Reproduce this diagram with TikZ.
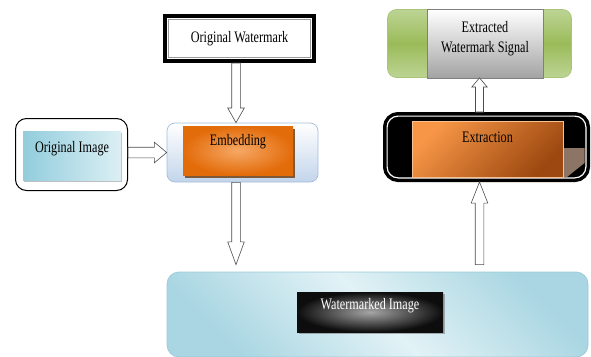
\documentclass[tikz,border=0pt]{standalone}
\usepackage{fontspec}
\usetikzlibrary{shapes.arrows,shadows,calc}
\newfontfamily\boxfont[FakeStretch=0.76]{Liberation Serif}
\newcommand{\diafont}{\boxfont\fontsize{16}{20}\selectfont}

\definecolor{sigGreen}{HTML}{9BBB59}
\definecolor{sigGreenLt}{HTML}{BDD494}
\definecolor{sigGreenLn}{HTML}{A9C47A}
\definecolor{sigGray}{HTML}{A3A3A3}
\definecolor{exLight}{HTML}{F79646}
\definecolor{exDark}{HTML}{9C4810}
\definecolor{curlBrown}{HTML}{8C7565}
\definecolor{emLight}{HTML}{F6A866}
\definecolor{emDark}{HTML}{E36C0A}
\definecolor{emFrame}{HTML}{C3D5EB}
\definecolor{emFrameLn}{HTML}{A5BCDA}
\definecolor{imgCyan}{HTML}{92CDDC}
\definecolor{imgCyanLt}{HTML}{DCEFF4}
\definecolor{wmCyan}{HTML}{A9D6E2}
\definecolor{wmCyanLt}{HTML}{E2F2F6}
\definecolor{wmCyanLn}{HTML}{9ACADA}

\begin{document}
\begin{tikzpicture}[
  x=1pt, y=-1pt,
  txtbox/.style={rectangle, inner sep=0pt, font=\diafont},
  lift/.style={text height=11pt, text depth=#1},
  roundframe/.style={rectangle, rounded corners=#1, line width=0.7pt},
  arrowbody/.style={single arrow, draw=black!70, fill=white, line width=0.6pt,
    anchor=tail, inner xsep=0pt, outer sep=0pt, minimum width=0pt},
  hollow/.style 2 args={to path={
    let \p1=(\tikztostart), \p2=(\tikztotarget),
        \n1={veclen(\x2-\x1,\y2-\y1)}, \n2={atan2(\y2-\y1,\x2-\x1)} in
    node[arrowbody, minimum height=\n1, rotate=\n2, single arrow tip angle=#1,
         inner ysep=#2, single arrow head extend=#2] at (\tikztostart) {}}}
]
  \useasboundingbox (0,0) rectangle (591,356);

  % Original watermark (top)
  \node[txtbox, draw=black, line width=4pt, fill=white, minimum width=149pt, minimum height=45pt,
        path picture={\draw[gray!80, line width=0.8pt]
          ([shift={(3.5pt,-3.5pt)}]path picture bounding box.north west) rectangle
          ([shift={(-3.5pt,3.5pt)}]path picture bounding box.south east);}]
        (wm) at (239.5,38.5) {Original Watermark};

  % Extracted signal (top right)
  \node[roundframe=9pt, draw=sigGreenLn, top color=sigGreenLt, bottom color=sigGreenLt,
        middle color=sigGreen, minimum width=184pt, minimum height=68pt] (signal) at (479.5,43.5) {};
  \node[txtbox, align=center, draw=gray, top color=white, bottom color=sigGray,
        minimum width=116pt, minimum height=69pt, text depth=14pt]
        (sigtext) at (485,43.5) {Extracted\\Watermark Signal};

  % Extraction
  \node[roundframe=11pt, draw=black, line width=3.5pt, double=white, double distance=1.2pt,
        fill=black, outer sep=4.1pt, minimum width=198.8pt, minimum height=61.8pt] (extract) at (486.5,147) {};
  \fill[curlBrown] (563,148) -- (584.5,148) -- (584.5,163) -- (567,177) -- (563,177) -- cycle;
  \node[txtbox, lift=25pt, draw=exLight!60!white, line width=0.5pt, top color=exLight,
        bottom color=exDark, shading angle=45, minimum width=151pt, minimum height=56pt]
        (extraction) at (487.5,149) {Extraction};

  % Embedding
  \node[roundframe=8pt, draw=emFrameLn, top color=white, bottom color=emFrame,
        minimum width=151pt, minimum height=59pt] (embframe) at (242.5,152.5) {};
  \node[txtbox, lift=22pt, inner color=emLight, outer color=emDark, minimum width=110pt,
        minimum height=49pt, drop shadow={shadow xshift=1.5pt, shadow yshift=-2.5pt,
        fill=brown!60!black, opacity=0.9}] (embed) at (238,150.5) {Embedding};

  % Original image (left)
  \node[roundframe=11pt, draw=black, line width=1pt, fill=white, minimum width=112pt,
        minimum height=72pt] (imgframe) at (71.5,154.5) {};
  \node[txtbox, lift=17pt, left color=imgCyan, right color=imgCyanLt, minimum width=98pt,
        minimum height=49pt, drop shadow={shadow xshift=1pt, shadow yshift=-2pt,
        fill=gray, opacity=0.5}] (img) at (72,155.5) {Original Image};

  % Watermarked image (bottom)
  \node[roundframe=12pt, draw=wmCyanLn, top color=wmCyan, bottom color=wmCyan,
        middle color=wmCyanLt, shading angle=-45, minimum width=421pt, minimum height=85pt]
        (wmframe) at (377.5,314.5) {};
  \node[txtbox, lift=17pt, text=white, inner color=black!35, outer color=black!95,
        minimum width=146pt, minimum height=40pt, drop shadow={shadow xshift=1.5pt,
        shadow yshift=-1.5pt, fill=gray, opacity=0.6}] (wmimg) at (370,312) {Watermarked Image};

  % Block arrows
  \path ([xshift=-3.5pt]wm.south) to[hollow={59}{4pt}] ([xshift=-6.5pt]embframe.north);
  \path (imgframe.east |- embframe.west) to[hollow={80}{5pt}] (embframe.west);
  \path ([xshift=-6.5pt]embframe.south) to[hollow={40}{4pt}] ($(embframe.south |- wmframe.north)+(-6.5,-7)$);
  \path ($(wmframe.north -| signal.south)+(0,-7)$) to[hollow={43}{4pt}] (extract.south -| signal.south);
  \path (extract.north -| signal.south) to[hollow={80}{3.7pt}] (signal.south);

\end{tikzpicture}
\end{document}
